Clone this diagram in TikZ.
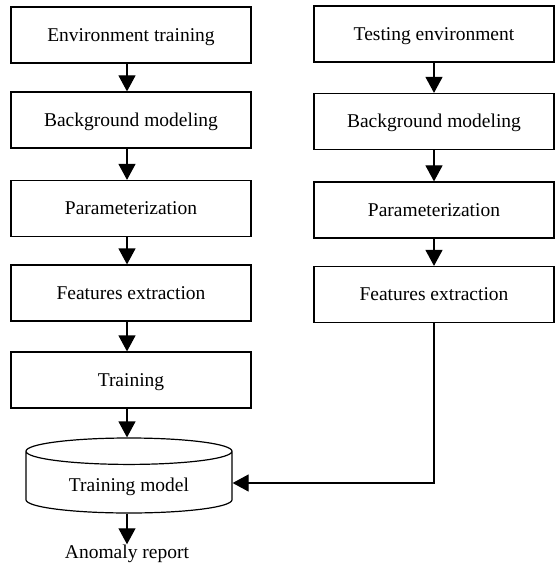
\documentclass[tikz,border=0pt]{standalone}
\usepackage{fontspec}
\setmainfont{Liberation Serif}
\usetikzlibrary{arrows.meta,shapes.geometric}
\tikzset{
  blk/.style={draw=black,line width=1.2pt,minimum width=240pt,minimum height=56pt,
    inner sep=0pt,text height=13.6pt,text depth=1pt,font=\fontsize{19.5}{23}\selectfont},
  db/.style={cylinder,shape border rotate=90,draw=black,line width=1.2pt,
    minimum width=206pt,minimum height=75pt,aspect=0.22,inner sep=0pt,
    text height=18.6pt,text depth=0pt,font=\fontsize{19.5}{23}\selectfont},
  arr/.style={draw=black,line width=1.2pt,-{Triangle[length=16pt,width=17pt]}},
  lbl/.style={inner sep=0pt,font=\fontsize{19.5}{23}\selectfont},
}
\begin{document}
\begin{tikzpicture}[x=1pt,y=1pt]
\useasboundingbox (0,0) rectangle (556,-564);
% training side
\node[blk] (env) at (131,-35) {Environment training};
\node[blk] (bgL) at (131,-120) {Background modeling};
\node[blk] (parL) at (131,-208.5) {Parameterization};
\node[blk] (featL) at (131,-293) {Features extraction};
\node[blk] (train) at (131,-380) {Training};
\node[db,anchor=shape center] (model) at (129,-475.5) {Training model};
\node[lbl,anchor=base] (anom) at (127,-558) {Anomaly report};
% testing side
\node[blk] (test) at (434,-34) {Testing environment};
\node[blk] (bgR) at (434,-121.5) {Background modeling};
\node[blk] (parR) at (434,-210) {Parameterization};
\node[blk] (featR) at (434,-294.5) {Features extraction};
\coordinate (turn) at (434,-483);

\draw[arr] (env.south -| anom) -- (bgL.north -| anom);
\draw[arr] (bgL.south -| anom) -- (parL.north -| anom);
\draw[arr] (parL.south -| anom) -- (featL.north -| anom);
\draw[arr] (featL.south -| anom) -- (train.north -| anom);
\draw[arr] (train.south -| anom) -- (model.north -| anom);
\draw[arr] (model.south -| anom) -- (anom.north);

\draw[arr] (test) -- (bgR);
\draw[arr] (bgR) -- (parR);
\draw[arr] (parR) -- (featR);
\draw[arr] (featR.south) -- (turn) -- (model.east |- turn);
\end{tikzpicture}
\end{document}
